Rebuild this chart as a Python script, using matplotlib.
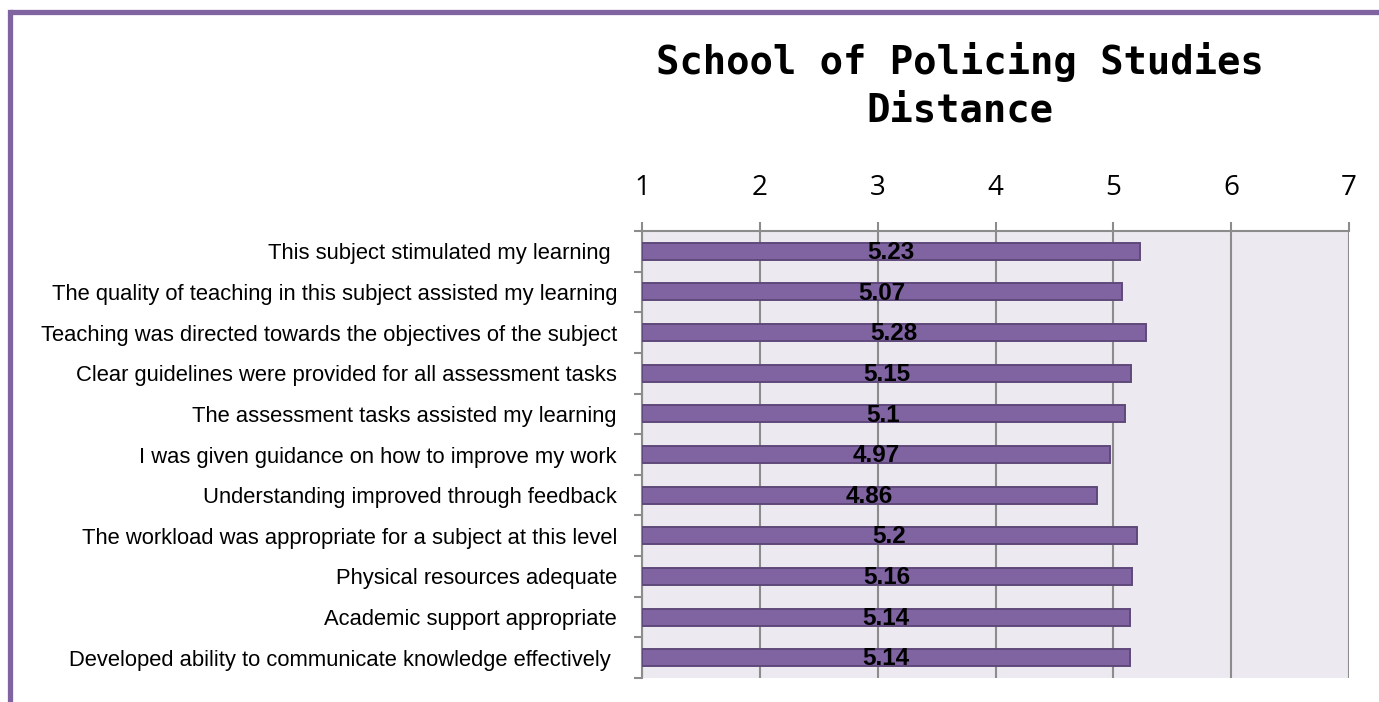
import matplotlib
matplotlib.use("Agg")
import matplotlib.pyplot as plt
from matplotlib.lines import Line2D
import numpy as np

categories = [
    "This subject stimulated my learning ",
    "The quality of teaching in this subject assisted my learning",
    "Teaching was directed towards the objectives of the subject",
    "Clear guidelines were provided for all assessment tasks",
    "The assessment tasks assisted my learning",
    "I was given guidance on how to improve my work",
    "Understanding improved through feedback",
    "The workload was appropriate for a subject at this level",
    "Physical resources adequate",
    "Academic support appropriate",
    "Developed ability to communicate knowledge effectively ",
]
values = [5.23, 5.07, 5.28, 5.15, 5.1, 4.97, 4.86, 5.2, 5.16, 5.14, 5.14]
value_labels = ["5.23", "5.07", "5.28", "5.15", "5.1", "4.97", "4.86", "5.2", "5.16", "5.14", "5.14"]
x_ticks = [1, 2, 3, 4, 5, 6, 7]
title = "School of Policing Studies\nDistance"

narrow = ["Liberation Sans Narrow", "Liberation Sans", "DejaVu Sans"]

fig = plt.figure(figsize=(13.79, 7.02), dpi=100)
ax = fig.add_axes([642/1379, 1-678/702, (1349-642)/1379, (678-231)/702])
ax.set_facecolor("#ECEAF0")

y = np.arange(len(categories))
base = 1
bars = ax.barh(y, [v - base for v in values], left=base, height=0.42,
               color="#8064A2", edgecolor="#5F497A", linewidth=1.4, zorder=3)
for rect, lab in zip(bars, value_labels):
    cx = rect.get_x() + rect.get_width() / 2
    cy = rect.get_y() + rect.get_height() / 2
    ax.text(cx, cy + 0.03, lab, ha="center", va="center", fontsize=17.5,
            fontweight="bold", family=narrow, color="black", zorder=4)

ax.set_xlim(1, 7)
ax.set_ylim(len(categories) - 0.5, -0.5)
ax.set_xticks(x_ticks)
ax.set_xticklabels([str(t) for t in x_ticks], family=["Open Sans", "DejaVu Sans"], fontsize=20)
ax.xaxis.tick_top()
ax.tick_params(axis="x", length=6.5, width=1.5, color="#8C8C8C", pad=14.5)
ax.grid(axis="x", color="#8C8C8C", linewidth=1.5, zorder=1)

ax.set_yticks(y)
ax.set_yticklabels(categories, family=narrow, fontsize=15.8)
ax.tick_params(axis="y", length=0, pad=18)
ax.set_yticks(np.arange(-0.5, len(categories), 1), minor=True)
ax.tick_params(axis="y", which="minor", length=6, width=1.5, color="#8C8C8C")

for s in ["right", "bottom"]:
    ax.spines[s].set_visible(False)
for s in ["top", "left"]:
    ax.spines[s].set_color("#8C8C8C")
    ax.spines[s].set_linewidth(1.5)

fig.text(960/1379, 1-86/702, title, ha="center", va="center", fontsize=28,
         fontweight="bold", family=["DejaVu Sans Mono"], linespacing=1.3)

# purple frame
fig.add_artist(Line2D([10/1379, 1.0], [1-12/702, 1-12/702], transform=fig.transFigure,
                      color="#8064A2", linewidth=3.8, solid_capstyle="butt"))
fig.add_artist(Line2D([10/1379, 10/1379], [1-12/702, 0], transform=fig.transFigure,
                      color="#8064A2", linewidth=3.8, solid_capstyle="projecting"))

fig.savefig("out.png", dpi=100)
